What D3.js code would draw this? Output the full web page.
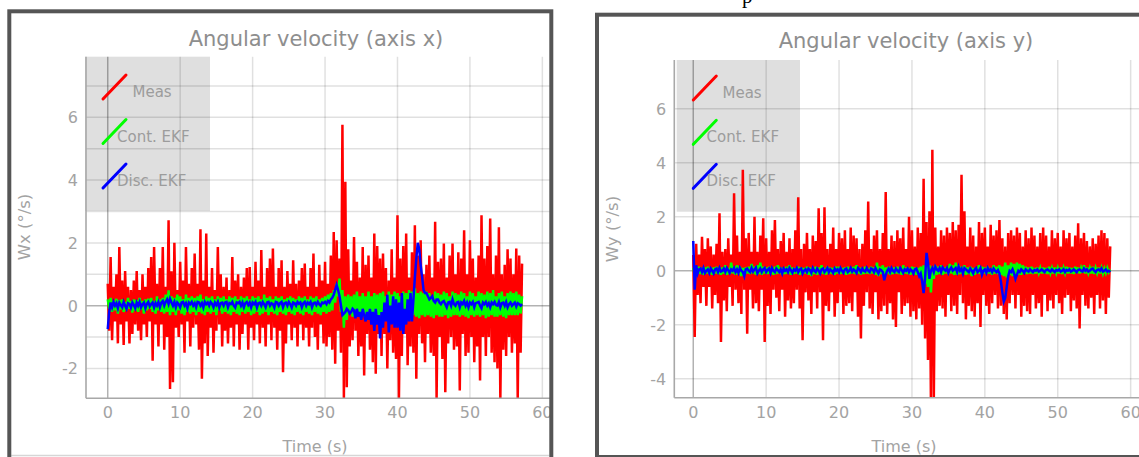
<!DOCTYPE html>
<html><head><meta charset="utf-8">
<script src="https://cdn.jsdelivr.net/npm/d3@7"></script>
<style>html,body{margin:0;padding:0;background:#fff;overflow:hidden}</style>
</head><body>
<svg id="chart" width="1139" height="457"></svg>
<script>
// ---------- data ----------
const sampleStep = 0.2;   // s, sampling interval of every series
const xTicks = [0, 10, 20, 30, 40, 50, 60];
const wxTicks = [-2, 0, 2, 4, 6];
const wxGrid = [-2, -1, 0, 1, 2, 3, 4, 5, 6, 7];
const wyTicks = [-4, -2, 0, 2, 4, 6];
const wyGrid = [-4, -2, 0, 2, 4, 6];
const seriesNames = ["Meas", "Cont. EKF", "Disc. EKF"];
const seriesColors = ["#ff0000", "#00ff00", "#0000ff"];

const wxMeas = [
 0.7,-0.8,1.55,-1.1,0.6,-0.5,1.0,-1.2,1.87,-0.6,
 0.8,-1.25,1.1,-0.5,0.6,-1.2,0.5,-0.9,0.8,-0.6,
 1.1,-0.8,0.5,-1.1,1.0,-0.6,0.6,-1.0,1.2,-0.5,
 1.55,-1.75,1.87,-0.6,0.7,-1.3,1.2,-0.6,1.87,-1.4,
 0.6,-1.0,2.72,-2.65,1.1,-2.44,2.0,-0.7,0.5,-1.0,
 1.4,-0.6,0.8,-1.5,1.87,-0.5,0.7,-1.3,1.2,-0.7,
 1.66,-0.6,0.7,-1.4,2.43,-2.33,0.8,-1.2,2.3,-1.6,
 0.6,-0.7,1.2,-1.5,0.5,-0.8,1.87,-0.6,1.0,-1.3,
 0.6,-0.8,0.9,-1.2,0.5,-0.7,1.55,-1.3,0.8,-0.6,
 1.0,-1.4,0.6,-0.9,0.9,-0.6,1.2,-1.4,1.23,-0.7,
 0.6,-1.1,1.4,-0.6,0.8,-1.2,1.77,-0.7,0.6,-1.3,
 1.2,-0.6,1.5,-1.1,1.82,-0.7,0.6,-1.4,1.2,-0.8,
 1.45,-2.12,0.6,-1.2,1.1,-0.6,0.7,-1.1,1.45,-0.7,
 0.7,-1.3,0.8,-0.6,1.2,-1.1,1.34,-0.7,0.6,-1.3,
 1.2,-0.7,1.66,-1.0,0.6,-1.4,1.3,-0.6,0.8,-1.2,
 1.4,-1.3,0.7,-1.0,1.6,-1.4,2.35,-1.85,2.08,-0.8,
 1.5,-1.5,5.76,-2.97,3.95,-2.6,1.8,-1.3,0.8,-1.1,
 2.19,-0.8,1.4,-1.6,0.9,-1.3,1.87,-2.22,1.3,-0.9,
 1.6,-1.4,0.9,-1.8,2.3,-2.17,1.9,-0.9,1.5,-1.6,
 1.66,-0.9,1.2,-2.0,0.8,-1.1,1.8,-1.5,0.9,-1.7,
 2.88,-2.97,1.5,-1.6,1.9,-0.9,2.3,-1.9,0.9,-1.3,
 1.7,-1.5,2.56,-2.33,1.6,-0.9,2.08,-1.2,1.0,-1.8,
 1.3,-0.9,1.6,-1.5,0.9,-1.6,2.67,-2.97,1.4,-1.0,
 1.5,-1.7,1.98,-2.76,0.9,-1.2,1.6,-1.0,1.98,-1.4,
 1.0,-1.3,1.7,-2.7,1.5,-0.9,2.4,-1.6,1.0,-1.5,
 2.08,-1.0,1.5,-1.8,0.9,-1.3,1.6,-2.38,2.88,-1.0,
 1.5,-1.6,1.9,-1.0,2.78,-1.5,1.0,-1.8,1.6,-2.0,
 2.5,-2.97,1.0,-1.4,1.3,-1.6,1.8,-1.0,1.5,-1.5,
 1.0,-1.2,1.82,-2.97,1.6,-1.5,1.34
];
const wxCont = [
 0.2,-0.1,0.25,-0.2,0.15,-0.15,0.22,-0.25,0.18,-0.12,
 0.2,-0.2,0.12,-0.15,0.25,-0.1,0.15,-0.22,0.2,-0.15,
 0.18,-0.2,0.25,-0.12,0.15,-0.25,0.2,-0.15,0.22,-0.1,
 0.25,-0.2,0.15,-0.25,0.3,-0.15,0.2,-0.2,0.25,-0.25,
 0.35,-0.2,0.49,-0.3,0.3,-0.2,0.25,-0.3,0.35,-0.15,
 0.3,-0.25,0.2,-0.3,0.35,-0.2,0.25,-0.25,0.3,-0.2,
 0.25,-0.3,0.3,-0.2,0.35,-0.25,0.2,-0.3,0.3,-0.2,
 0.25,-0.25,0.3,-0.2,0.2,-0.3,0.3,-0.15,0.25,-0.25,
 0.3,-0.2,0.2,-0.25,0.3,-0.3,0.25,-0.2,0.3,-0.25,
 0.2,-0.3,0.3,-0.2,0.25,-0.25,0.3,-0.2,0.2,-0.3,
 0.3,-0.25,0.25,-0.2,0.3,-0.3,0.2,-0.25,0.35,-0.2,
 0.25,-0.3,0.3,-0.2,0.2,-0.25,0.3,-0.3,0.25,-0.2,
 0.3,-0.25,0.2,-0.3,0.25,-0.2,0.3,-0.25,0.25,-0.3,
 0.2,-0.2,0.3,-0.25,0.25,-0.3,0.3,-0.2,0.2,-0.25,
 0.3,-0.3,0.25,-0.2,0.3,-0.25,0.2,-0.3,0.25,-0.2,
 0.3,-0.25,0.35,-0.2,0.4,-0.15,0.5,0.1,0.7,0.3,
 0.86,-0.2,0.5,-0.7,0.3,-0.45,0.35,-0.25,0.3,-0.35,
 0.35,-0.3,0.45,-0.35,0.3,-0.25,0.4,-0.35,0.3,-0.3,
 0.45,-0.3,0.3,-0.4,0.4,-0.25,0.35,-0.45,0.4,-0.3,
 0.45,-0.35,0.3,-0.3,0.45,-0.4,0.35,-0.3,0.45,-0.35,
 0.4,-0.4,0.3,-0.35,0.45,-0.3,0.4,-0.4,0.5,-0.35,
 0.45,-0.3,0.55,-0.35,0.4,-0.4,0.45,-0.3,0.4,-0.35,
 0.45,-0.3,0.4,-0.35,0.3,-0.4,0.45,-0.3,0.4,-0.35,
 0.35,-0.35,0.45,-0.3,0.4,-0.4,0.3,-0.35,0.45,-0.3,
 0.4,-0.3,0.35,-0.35,0.45,-0.3,0.4,-0.35,0.3,-0.4,
 0.45,-0.3,0.4,-0.35,0.3,-0.3,0.45,-0.35,0.4,-0.3,
 0.35,-0.4,0.45,-0.35,0.4,-0.3,0.5,-0.35,0.3,-0.35,
 0.4,-0.3,0.45,-0.35,0.3,-0.4,0.4,-0.3,0.45,-0.3,
 0.4,-0.3,0.45,-0.3,0.35,-0.25,0.3
];
const wxDisc = [
 -0.75,-0.2,0.1,-0.05,0.12,0.0,0.08,-0.08,0.1,0.02,
 -0.05,0.12,0.0,-0.1,0.08,0.05,-0.06,0.1,0.02,-0.08,
 0.1,0.0,0.12,-0.05,0.05,0.1,-0.08,0.06,0.12,-0.02,
 0.05,0.1,-0.06,0.08,0.0,0.12,-0.05,0.1,0.15,0.0,
 0.12,0.2,0.05,0.22,0.1,0.0,0.12,-0.05,0.1,0.05,
 -0.05,0.1,0.12,0.0,0.08,-0.08,0.1,0.05,0.12,0.0,
 0.08,-0.05,0.12,0.1,0.0,0.08,-0.06,0.12,0.05,0.1,
 0.0,0.12,0.06,-0.05,0.1,0.02,0.12,-0.06,0.08,0.1,
 0.0,0.1,0.12,-0.05,0.08,0.05,0.12,0.0,-0.06,0.1,
 0.08,0.12,0.0,0.1,-0.05,0.08,0.12,0.02,0.1,-0.05,
 0.1,0.05,0.12,-0.06,0.08,0.1,0.0,0.12,0.05,-0.05,
 0.1,0.12,0.0,0.08,0.05,-0.06,0.12,0.1,0.0,0.08,
 0.12,-0.05,0.08,0.1,0.0,0.12,0.05,-0.06,0.1,0.08,
 0.0,0.12,0.06,0.1,-0.05,0.08,0.12,0.0,0.1,0.05,
 0.12,-0.05,0.08,0.1,0.02,0.12,0.05,0.0,0.1,0.08,
 0.12,0.05,0.15,0.1,0.2,0.25,0.35,0.5,0.66,0.5,
 0.3,0.0,-0.3,-0.25,-0.2,-0.1,-0.15,-0.25,-0.2,-0.1,
 -0.15,-0.4,-0.1,-0.35,-0.2,-0.45,-0.1,-0.3,-0.5,-0.2,
 -0.45,-0.1,-0.6,-0.2,-0.8,-0.1,-0.6,-0.3,-1.04,-0.2,
 -0.7,0.1,-0.5,0.35,-0.85,0.0,-0.6,0.3,-0.7,0.2,
 -0.7,0.1,-0.8,0.4,-0.9,-0.1,-0.6,0.2,-0.5,0.4,
 -0.5,0.2,0.9,1.5,2.0,1.8,1.3,0.9,0.5,0.4,
 0.4,0.3,0.2,0.25,0.3,0.15,0.1,0.2,0.2,0.1,
 0.05,0.12,0.15,0.05,-0.05,0.1,0.12,0.0,0.2,0.05,
 0.0,0.1,0.12,-0.05,0.1,0.05,0.15,0.0,0.1,-0.05,
 0.1,0.05,0.12,-0.05,0.08,0.1,0.12,0.0,-0.08,0.1,
 0.05,0.12,0.0,0.08,-0.05,0.1,0.05,0.12,0.02,0.0,
 0.12,-0.05,0.08,0.1,0.0,0.12,-0.05,0.05,0.1,0.0,
 0.05,0.1,-0.03,0.08,0.05,0.0,0.05
];
const wyMeas = [
 0.58,-2.45,1.0,-0.9,0.6,-1.2,1.26,-0.6,0.8,-1.3,
 1.2,-0.6,0.9,-1.4,0.6,-0.9,1.0,-1.2,2.13,-2.64,
 0.7,-1.1,0.8,-1.5,1.2,-0.6,0.6,-1.3,2.87,-0.7,
 1.3,-1.2,0.7,-1.6,3.74,-0.7,1.2,-2.33,1.4,-0.7,
 0.7,-1.4,2.0,-1.2,0.7,-1.5,1.3,-0.7,1.94,-2.64,
 1.2,-1.3,0.7,-1.6,1.5,-0.7,1.88,-1.0,0.8,-1.5,
 1.1,-0.7,1.4,-1.7,0.7,-1.1,1.2,-1.4,0.8,-1.2,
 1.5,-0.7,2.72,-1.4,0.8,-2.57,1.0,-0.8,1.4,-1.1,
 0.8,-1.6,1.3,-0.8,1.1,-1.4,2.31,-0.8,1.4,-2.57,
 2.35,-1.3,0.8,-1.5,1.0,-0.8,1.6,-1.7,0.8,-1.2,
 1.4,-0.8,1.2,-1.6,1.5,-1.3,0.8,-1.2,1.6,-1.5,
 1.3,-0.8,1.2,-1.7,0.8,-2.51,1.0,-1.3,1.5,-0.8,
 2.56,-1.4,0.8,-1.6,1.3,-0.8,1.5,-1.8,0.8,-1.5,
 1.4,-1.3,2.91,-1.6,0.8,-1.2,1.3,-1.8,1.1,-2.08,
 1.5,-0.8,1.2,-1.6,1.6,-1.3,0.8,-1.2,2.0,-1.7,
 1.5,-1.5,0.9,-1.8,1.6,-1.4,1.4,-2.0,3.4,-2.51,
 1.8,-3.3,2.2,-4.74,4.48,-4.74,1.6,-1.5,0.9,-1.3,
 1.5,-1.4,1.3,-1.7,1.6,-0.9,1.4,-1.5,1.8,-1.3,
 1.5,-1.6,1.7,-0.9,3.55,-1.2,2.2,-1.8,0.9,-1.3,
 1.6,-1.5,1.3,-1.7,0.9,-1.2,1.8,-2.08,1.4,-0.9,
 1.6,-1.3,0.9,-1.6,1.7,-1.2,1.3,-0.9,1.5,-1.4,
 1.88,-1.3,1.2,-1.6,0.9,-1.8,1.4,-1.2,1.5,-0.9,
 1.3,-1.4,1.6,-0.9,1.4,-1.7,0.9,-1.3,1.5,-1.5,
 1.2,-1.6,1.6,-0.9,1.3,-1.4,0.9,-1.2,1.4,-1.7,
 1.6,-0.9,1.3,-1.5,0.9,-1.1,1.5,-1.4,1.2,-0.9,
 1.4,-1.2,0.9,-1.6,1.5,-1.0,1.2,-0.9,1.4,-1.5,
 0.9,-1.1,1.3,-1.4,1.76,-2.14,1.2,-0.9,1.4,-1.3,
 1.1,-1.4,0.9,-1.0,1.2,-1.6,1.0,-0.9,1.3,-1.4,
 1.5,-1.1,1.4,-1.6,1.2,-1.0,0.9
];
const wyCont = [
 0.1,-0.15,0.12,-0.1,0.15,-0.12,0.1,-0.15,0.12,-0.1,
 0.15,-0.12,0.1,-0.15,0.12,-0.1,0.15,-0.12,0.1,-0.15,
 0.12,-0.1,0.2,-0.15,0.1,-0.12,0.3,-0.1,0.15,-0.15,
 0.2,-0.12,0.15,-0.2,0.1,-0.15,0.12,-0.1,0.15,-0.12,
 0.25,-0.1,0.15,-0.15,0.2,-0.12,0.3,-0.15,0.15,-0.1,
 0.12,-0.12,0.15,-0.1,0.1,-0.15,0.15,-0.12,0.2,-0.1,
 0.12,-0.15,0.1,-0.12,0.15,-0.1,0.2,-0.15,0.12,-0.12,
 0.1,-0.1,0.15,-0.15,0.12,-0.12,0.1,-0.1,0.15,-0.15,
 0.12,-0.2,0.1,-0.12,0.15,-0.15,0.12,-0.1,0.2,-0.12,
 0.1,-0.15,0.15,-0.1,0.12,-0.12,0.1,-0.15,0.15,-0.1,
 0.15,-0.12,0.1,-0.1,0.12,-0.15,0.15,-0.12,0.1,-0.1,
 0.15,-0.12,0.2,-0.1,0.12,-0.15,0.1,-0.12,0.15,-0.1,
 0.1,-0.12,0.15,-0.1,0.12,-0.15,0.3,-0.2,0.15,-0.12,
 0.2,-0.3,0.12,-0.1,0.15,-0.15,0.1,-0.12,0.12,-0.1,
 0.15,-0.12,0.1,-0.15,0.2,-0.1,0.12,-0.12,0.1,-0.15,
 0.15,-0.1,0.12,-0.15,0.1,-0.2,0.15,-0.3,0.2,-0.5,
 0.3,-0.6,0.2,-0.8,0.15,-0.3,0.2,-0.15,0.15,-0.12,
 0.2,-0.15,0.12,-0.1,0.15,-0.12,0.25,-0.1,0.2,-0.15,
 0.3,-0.15,0.2,-0.12,0.15,-0.1,0.2,-0.15,0.12,-0.12,
 0.15,-0.2,0.1,-0.15,0.12,-0.1,0.2,-0.12,0.15,-0.1,
 0.12,-0.12,0.15,-0.1,0.1,-0.15,0.2,-0.1,0.15,-0.12,
 0.2,-0.15,0.15,-0.2,0.3,-0.25,0.2,-0.15,0.3,-0.2,
 0.25,-0.2,0.3,-0.15,0.25,-0.15,0.2,-0.1,0.15,-0.12,
 0.12,-0.1,0.15,-0.12,0.1,-0.1,0.12,-0.08,0.1,-0.1,
 0.12,-0.1,0.1,-0.12,0.15,-0.08,0.1,-0.1,0.12,-0.08,
 0.1,-0.1,0.12,-0.12,0.1,-0.08,0.15,-0.1,0.12,-0.1,
 0.1,-0.12,0.15,-0.08,0.12,-0.1,0.1,-0.08,0.2,-0.1,
 0.12,-0.08,0.1,-0.1,0.15,-0.12,0.1,-0.08,0.12,-0.1,
 0.1,-0.1,0.08,-0.08,0.1,-0.05,0.05
];
const wyDisc = [
 1.1,-0.7,0.2,-0.1,0.05,0.08,-0.05,0.1,-0.08,0.0,
 0.05,-0.08,0.08,0.0,-0.1,0.05,0.08,-0.05,0.1,-0.03,
 0.0,0.08,-0.05,0.1,0.02,-0.08,0.05,0.0,0.1,-0.05,
 0.05,-0.08,0.1,0.0,-0.05,-0.2,0.05,0.08,0.0,-0.05,
 0.1,-0.03,0.05,0.12,-0.1,0.0,0.08,-0.05,0.05,0.1,
 -0.05,0.03,0.08,-0.08,0.1,0.0,-0.05,0.08,0.02,-0.05,
 0.05,-0.1,0.08,0.0,0.05,-0.05,0.1,0.02,-0.08,0.05,
 0.0,0.1,-0.05,0.05,0.08,-0.1,0.0,0.05,-0.05,0.08,
 0.03,-0.08,0.1,0.0,-0.05,0.08,0.0,-0.1,0.05,0.08,
 -0.05,0.02,0.1,-0.05,0.05,0.0,-0.08,0.08,0.0,0.05,
 -0.05,0.1,0.0,-0.08,0.05,0.08,-0.05,0.0,0.1,-0.03,
 0.05,0.0,-0.08,0.1,0.05,-0.05,0.08,0.0,-0.03,0.1,
 0.0,-0.05,0.08,0.05,-0.05,0.1,0.0,-0.1,0.05,0.02,
 -0.05,-0.35,-0.15,0.0,0.08,-0.05,0.1,0.0,-0.05,0.08,
 0.0,-0.05,0.1,0.02,-0.08,0.05,0.0,0.08,-0.05,0.05,
 0.0,-0.1,0.05,0.08,-0.05,-0.2,-0.1,-0.4,-0.83,-0.3,
 0.66,0.3,-0.3,0.0,0.1,-0.05,0.15,0.05,0.0,0.1,
 -0.05,0.12,0.05,0.0,0.1,-0.08,0.05,0.12,0.0,0.05,
 0.1,-0.05,0.15,0.0,0.08,-0.1,0.1,0.05,0.0,-0.05,
 0.08,0.0,-0.1,0.05,0.1,-0.05,0.0,0.1,-0.15,0.0,
 0.05,-0.08,0.1,0.0,0.05,-0.05,0.08,0.0,-0.05,0.02,
 -0.1,-0.4,-0.8,-1.14,-1.0,-0.6,-0.2,0.0,-0.05,0.05,
 -0.1,-0.3,-0.15,0.0,-0.05,0.05,0.0,-0.08,0.05,0.0,
 -0.03,0.05,0.0,-0.05,0.03,0.0,0.05,-0.03,0.0,0.05,
 0.0,-0.05,0.03,0.05,0.0,-0.03,0.05,0.0,-0.05,0.03,
 0.0,0.05,-0.03,0.0,0.05,-0.05,0.03,0.0,0.05,-0.03,
 0.0,0.05,0.0,-0.05,0.03,0.05,0.0,-0.03,0.08,0.0,
 0.05,-0.03,0.0,0.05,0.08,0.0,-0.05,0.03,0.05,0.0,
 0.08,-0.03,0.0,0.05,-0.03,0.0,-0.05
];

// ---------- layout ----------
const panels = [
  { title: "Angular velocity (axis x)", yLabel: "Wx (°/s)",
    series: [wxMeas, wxCont, wxDisc], yTicks: wxTicks, yGrid: wxGrid,
    xDomain: [-3, 61], xRange: [86, 549.6], yDomain: [-2.95, 7.93], yRange: [398.3, 56.7],
    clipRight: 550, border: {x: 9.3, y: 11.3, w: 542, h: 480},
    legend: {x: 85, y: 56.7, w: 125, h: 154.3},
    titleX: 316, titleY: 46, xLabelX: 315, yLabelX: 30, yLabelY: 227,
    legLineX: 103, legItemY: [99, 143.5, 188], textX: [132.5, 117, 117], bottomLine: true },
  { title: "Angular velocity (axis y)", yLabel: "Wy (°/s)",
    series: [wyMeas, wyCont, wyDisc], yTicks: wyTicks, yGrid: wyGrid,
    xDomain: [-2.6, 64], xRange: [674.3, 1159.8], yDomain: [-4.7, 7.8], yRange: [397.7, 60],
    clipRight: 1139, border: {x: 597, y: 14.7, w: 600, h: 442.3},
    legend: {x: 676.7, y: 60, w: 123.3, h: 151.7},
    titleX: 906, titleY: 48, xLabelX: 904, yLabelX: 617.5, yLabelY: 229,
    legLineX: 693.3, legItemY: [100, 144.3, 188.3], textX: [722.5, 706.5, 706.5], bottomLine: false }
];

const svg = d3.select("#chart");
svg.append("rect").attr("width", 1139).attr("height", 457).attr("fill", "#fff");
const FONT = "DejaVu Sans, Verdana, sans-serif";

panels.forEach((p, pi) => {
  const g = svg.append("g");
  const x = d3.scaleLinear().domain(p.xDomain).range(p.xRange);
  const y = d3.scaleLinear().domain(p.yDomain).range(p.yRange);
  const left = p.xRange[0], right = p.clipRight, top = p.yRange[1], bottom = p.yRange[0];

  // legend background
  g.append("rect").attr("x", p.legend.x).attr("y", p.legend.y)
    .attr("width", p.legend.w).attr("height", p.legend.h).attr("fill", "#dfdfdf");

  // grid
  g.selectAll(".vg").data(xTicks.filter(d => d !== 0)).join("line")
    .attr("x1", d => x(d)).attr("x2", d => x(d)).attr("y1", top).attr("y2", bottom)
    .attr("stroke", "rgba(0,0,0,0.12)").attr("stroke-width", 1.5);
  g.selectAll(".hg").data(p.yGrid.filter(d => d !== 0)).join("line")
    .attr("x1", left).attr("x2", right).attr("y1", d => y(d)).attr("y2", d => y(d))
    .attr("stroke", "rgba(0,0,0,0.12)").attr("stroke-width", 1.5);
  // zero lines
  g.append("line").attr("x1", x(0)).attr("x2", x(0)).attr("y1", top).attr("y2", bottom)
    .attr("stroke", "rgba(0,0,0,0.3)").attr("stroke-width", 1.5);
  g.append("line").attr("x1", left).attr("x2", right).attr("y1", y(0)).attr("y2", y(0))
    .attr("stroke", "rgba(0,0,0,0.3)").attr("stroke-width", 1.5);

  // series
  const clipId = "clip" + pi;
  svg.append("clipPath").attr("id", clipId).append("rect")
    .attr("x", left).attr("y", top).attr("width", right - left).attr("height", bottom - top);
  const plot = g.append("g").attr("clip-path", `url(#${clipId})`);
  p.series.forEach((vals, si) => {
    const line = d3.line().x((d, i) => x(i * sampleStep)).y(d => y(d));
    plot.append("path").datum(vals).attr("d", line)
      .attr("fill", "none").attr("stroke", seriesColors[si])
      .attr("stroke-width", 2.5).attr("stroke-linejoin", "miter");
  });

  // axes lines
  g.append("line").attr("x1", left).attr("x2", left).attr("y1", top).attr("y2", bottom)
    .attr("stroke", "#a8a8a8").attr("stroke-width", 1.6);
  g.append("line").attr("x1", left).attr("x2", right).attr("y1", bottom).attr("y2", bottom)
    .attr("stroke", "#a8a8a8").attr("stroke-width", 1.6);

  // tick labels
  g.selectAll(".xt").data(xTicks).join("text")
    .attr("x", d => x(d)).attr("y", bottom + 20).attr("text-anchor", "middle")
    .attr("font-family", FONT).attr("font-size", 16).attr("fill", "#a3a3a3").text(d => d);
  g.selectAll(".yt").data(p.yTicks).join("text")
    .attr("x", left - 8).attr("y", d => y(d) + 6).attr("text-anchor", "end")
    .attr("font-family", FONT).attr("font-size", 16).attr("fill", "#a3a3a3").text(d => d);

  // legend items
  seriesNames.forEach((name, si) => {
    const ly = p.legItemY[si];
    g.append("line").attr("x1", p.legLineX).attr("y1", ly)
      .attr("x2", p.legLineX + 23).attr("y2", ly - 24)
      .attr("stroke", seriesColors[si]).attr("stroke-width", 3).attr("stroke-linecap", "round");
    g.append("text").attr("x", p.textX[si]).attr("y", ly - 2)
      .attr("font-family", FONT).attr("font-size", 15).attr("fill", "#9c9c9c").text(name);
  });

  // titles
  g.append("text").attr("x", p.titleX).attr("y", p.titleY).attr("text-anchor", "middle")
    .attr("font-family", FONT).attr("font-size", 21).attr("fill", "#8e8e8e").text(p.title);
  g.append("text").attr("x", p.xLabelX).attr("y", 451.5).attr("text-anchor", "middle")
    .attr("font-family", FONT).attr("font-size", 16).attr("fill", "#a3a3a3").text("Time (s)");
  g.append("text").attr("transform", `translate(${p.yLabelX},${p.yLabelY}) rotate(-90)`)
    .attr("text-anchor", "middle")
    .attr("font-family", FONT).attr("font-size", 16.5).attr("fill", "#a3a3a3").text(p.yLabel);

  if (p.bottomLine) {
    g.append("line").attr("x1", p.border.x + 2).attr("x2", p.border.x + p.border.w - 2)
      .attr("y1", 455.5).attr("y2", 455.5).attr("stroke", "#d6d6d6").attr("stroke-width", 1.5);
  }
  // border
  g.append("rect").attr("x", p.border.x).attr("y", p.border.y)
    .attr("width", p.border.w).attr("height", p.border.h)
    .attr("fill", "none").attr("stroke", "#555").attr("stroke-width", 4);
});

// stray caption glyph at top (cut off by the page edge, as in the reference)
svg.append("text").attr("x", 742).attr("y", 3)
  .attr("font-family", "Liberation Serif, serif").attr("font-size", 21).attr("fill", "#000").text("p");
</script>
</body></html>
